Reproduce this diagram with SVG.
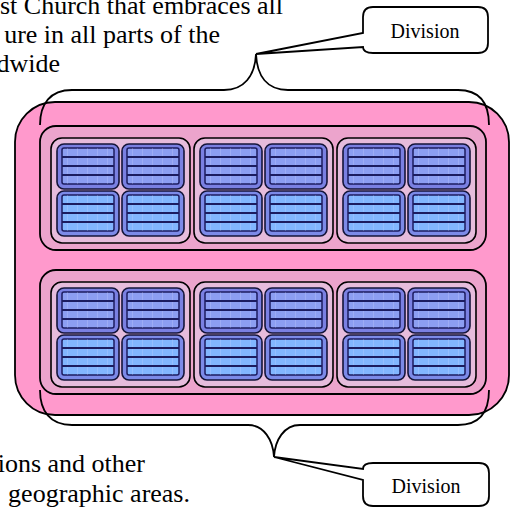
<svg xmlns="http://www.w3.org/2000/svg" width="512" height="508" viewBox="0 0 512 508">
<style>
text{font-family:'Liberation Serif','DejaVu Serif',serif;fill:#000}
.body{font-size:26px}
.lbl{font-size:20px}
.brace{fill:none;stroke:#000;stroke-width:1.8}
.callout{fill:#fff;stroke:#000;stroke-width:1.8}
.frameA{fill:#7a80e2;stroke:#15153a;stroke-width:1.6}
.frameB{fill:#7c8ae8;stroke:#15153a;stroke-width:1.6}
.bandA{fill:#8c9ef2;stroke:#1c1c60;stroke-width:1.5}
.bandB{fill:#82b6ff;stroke:#1c1c60;stroke-width:1.5}
.sep{stroke:#1c1c60;stroke-width:1.8;fill:none}
</style>
<defs>
<pattern id="grid" width="10" height="9" patternUnits="userSpaceOnUse">
<path d="M0 0V9" stroke="#d0d8ff" stroke-width="0.8" opacity="0.6"/>
</pattern>
<g id="cellA">
<rect x="0" y="0" width="62" height="45" rx="7" class="frameA"/>
<rect x="5" y="4" width="52" height="36" rx="2" class="bandA"/>
<rect x="5" y="4" width="52" height="36" fill="url(#grid)"/>
<path d="M5 13H57M5 22H57M5 31H57" class="sep"/>
</g>
<g id="cellB">
<rect x="0" y="0" width="62" height="45" rx="7" class="frameB"/>
<rect x="5" y="4" width="52" height="36" rx="2" class="bandB"/>
<rect x="5" y="4" width="52" height="36" fill="url(#grid)"/>
<path d="M5 13H57M5 22H57M5 31H57" class="sep"/>
</g>
<g id="grp">
<rect x="0" y="0" width="139" height="105" rx="11" fill="#e6bcdc" stroke="#000" stroke-width="1.6"/>
<use href="#cellA" x="6" y="6"/>
<use href="#cellA" x="71" y="6"/>
<use href="#cellB" x="6" y="53"/>
<use href="#cellB" x="71" y="53"/>
</g>
<g id="row">
<rect x="0" y="0" width="446" height="124" rx="16" fill="#eca4cc" stroke="#000" stroke-width="1.8"/>
<use href="#grp" x="11" y="12"/>
<use href="#grp" x="154" y="12"/>
<use href="#grp" x="297" y="12"/>
</g>
</defs>

<g id="text-top">
<text class="body" x="283" y="14" text-anchor="end" font-family="Liberation Serif, serif">st Church that embraces all</text>
<text class="body" x="220" y="43" text-anchor="end" font-family="Liberation Serif, serif">ure in all parts of the</text>
<text class="body" x="60" y="72" text-anchor="end" font-family="Liberation Serif, serif">dwide</text>
</g>
<g id="text-bottom">
<text class="body" x="145" y="472" text-anchor="end" font-family="Liberation Serif, serif">ions and other</text>
<text class="body" x="190" y="502" text-anchor="end" font-family="Liberation Serif, serif">geographic areas.</text>
</g>

<g id="container">
<rect x="15" y="102" width="494" height="313" rx="40" fill="#ff99cc" stroke="#000" stroke-width="1.8"/>
</g>
<g id="row1"><use href="#row" x="40" y="126"/></g>
<g id="row2"><use href="#row" x="40" y="270"/></g>

<g id="connectors">
<path class="brace" d="M40 125C40 104 50 90 72 90L224 90C244 90 255 76 256 54C257 76 267 90 288 90L458 90C480 90 489 104 489 125"/>
<path class="brace" d="M40 390C40 411 50 425 72 425L248 425C264 425 273 440 274 457C275 440 284 425 300 425L458 425C480 425 489 411 489 390"/>
</g>

<g id="callout-top">
<path class="callout" d="M373 7H478Q488 7 488 17V43Q488 53 478 53H373Q363 53 363 47L256 54L363 33V17Q363 7 373 7Z"/>
<text class="lbl" x="425" y="38" text-anchor="middle" font-family="Liberation Serif, serif">Division</text>
</g>
<g id="callout-bottom">
<path class="callout" d="M373 463H479Q489 463 489 473V496Q489 506 479 506H373Q363 506 363 496V480L274 457L363 469Q363 463 373 463Z"/>
<text class="lbl" x="426" y="493" text-anchor="middle" font-family="Liberation Serif, serif">Division</text>
</g>
</svg>
